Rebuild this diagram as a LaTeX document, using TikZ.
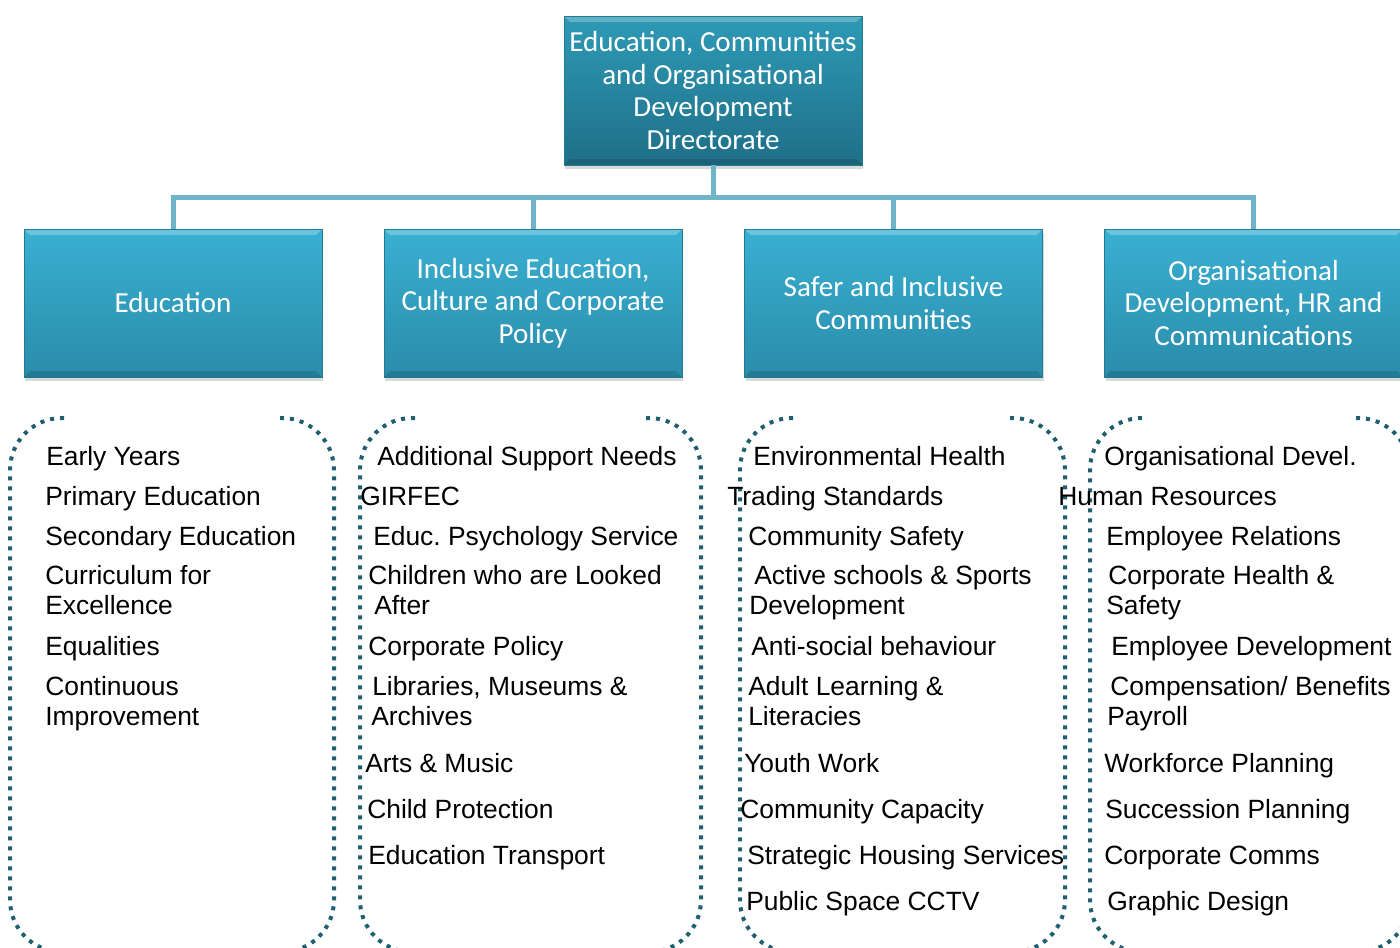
\documentclass[tikz,border=0pt]{standalone}
\usepackage{fontspec}
\newfontfamily\boxfont{Carlito}
\newfontfamily\listfont{Liberation Sans}
\usetikzlibrary{shadows}
\definecolor{unitTop}{HTML}{3AB0D2}
\definecolor{unitBot}{HTML}{2A8CAA}
\definecolor{headTop}{HTML}{2E9AB6}
\definecolor{headBot}{HTML}{1F6F88}
\definecolor{unitEdge}{HTML}{237A93}
\definecolor{linkBlue}{HTML}{6FB5C9}
\definecolor{dotTeal}{HTML}{1F5F70}
\tikzset{
  bevel/.style={path picture={
    \fill[white,opacity=.25] (path picture bounding box.north west) -- (path picture bounding box.north east)
      -- ([xshift=-4.5pt,yshift=-4.5pt]path picture bounding box.north east) -- ([xshift=4.5pt,yshift=-4.5pt]path picture bounding box.north west) -- cycle;
    \fill[black,opacity=.12] (path picture bounding box.south west) -- (path picture bounding box.south east)
      -- ([xshift=-4.5pt,yshift=4.5pt]path picture bounding box.south east) -- ([xshift=4.5pt,yshift=4.5pt]path picture bounding box.south west) -- cycle;
  }}
}

\begin{document}
\frenchspacing
\begin{tikzpicture}[x=0.75pt, y=-0.75pt,
  unit/.style={draw=unitEdge, line width=0.6pt, top color=unitTop, bottom color=unitBot, bevel,
    minimum width=223.5pt, minimum height=111pt, inner sep=0pt, align=center, text=white,
    font=\boxfont\fontsize{21.8}{24.4}\selectfont,
    drop shadow={shadow xshift=0.75pt, shadow yshift=-3pt, opacity=0.3}},
  head/.style={unit, top color=headTop, bottom color=headBot, minimum height=111.75pt},
  item/.style={anchor=west, inner sep=0pt, align=left, font=\listfont\fontsize{19.8}{22.5}\selectfont\frenchspacing,
    execute at begin node=\strut, execute at end node=\strut},
  bracket/.style={draw=dotTeal, line width=3pt, dash pattern=on 3pt off 4.5pt, rounded corners=39pt},
  link/.style={draw=linkBlue, line width=3.75pt}]
	\useasboundingbox (0,0) rectangle (1400,947);
	\clip (0,0) rectangle (1400,947);
	% Directorate and its four services
	\node[head] (dir) at (713,90.5) {Education, Communities\\and Organisational\\Development\\Directorate};
	\node[unit] (edu) at (173,303) {Education};
	\node[unit] (incl) at (533,303) {Inclusive Education,\\Culture and Corporate\\Policy};
	\node[unit] (safe) at (893.5,303) {Safer and Inclusive\\Communities};
	\node[unit] (orgd) at (1253.5,303) {Organisational\\Development, HR and\\Communications};
	\coordinate (bus) at (713,197);
	\draw[link] (dir.south) -- (bus);
	\draw[link] (bus) -| (edu.north);
	\draw[link] (bus) -| (incl.north);
	\draw[link] (bus) -| (safe.north);
	\draw[link] (bus) -| (orgd.north);
	% Dotted brackets round the lists
	\draw[bracket] (64,418) -- (10,418) -- (10,952) -- (64,952);
	\draw[bracket] (280,418) -- (334,418) -- (334,952) -- (280,952);
	\draw[bracket] (415,418) -- (360,418) -- (360,952) -- (415,952);
	\draw[bracket] (646,418) -- (701,418) -- (701,952) -- (646,952);
	\draw[bracket] (793,418) -- (740,418) -- (740,952) -- (793,952);
	\draw[bracket] (1010,418) -- (1065,418) -- (1065,952) -- (1010,952);
	\draw[bracket] (1142,418) -- (1090,418) -- (1090,952) -- (1142,952);
	\draw[bracket] (1356,418) -- (1410,418) -- (1410,952) -- (1356,952);
	% Education
	\node[item] (e1) at (46,459.5) {Early Years};
	\node[item] (e2) at (45,499.5) {Primary Education};
	\node[item] (e3) at (45,539.5) {Secondary Education};
	\node[item] (e4) at (45,594.5) {Curriculum for\\Excellence};
	\node[item] (e5) at (45,649.5) {Equalities};
	\node[item] (e6) at (45,705) {Continuous\\Improvement};
	% Inclusive Education
	\node[item] (i1) at (377,459.5) {Additional Support Needs};
	\node[item] (i2) at (360,499.5) {GIRFEC};
	\node[item] (i3) at (373,539.5) {Educ. Psychology Service};
	\node[item] (i4) at (368,594.5) {Children who are Looked\\\hspace*{4.5pt}After};
	\node[item] (i5) at (368,649.5) {Corporate Policy};
	\node[item] (i6) at (371,705) {\hspace*{0.75pt}Libraries, Museums \&\\Archives};
	\node[item] (i7) at (365,766.5) {Arts \& Music};
	\node[item] (i8) at (367,812.5) {Child Protection};
	\node[item] (i9) at (368,858.5) {Education Transport};
	% Safer and Inclusive Communities
	\node[item] (s1) at (753,459.5) {Environmental Health};
	\node[item] (s2) at (727,499.5) {Trading Standards};
	\node[item] (s3) at (748,539.5) {Community Safety};
	\node[item] (s4) at (749,594.5) {\hspace*{3.75pt}Active schools \& Sports\\Development};
	\node[item] (s5) at (751,649.5) {Anti-social behaviour};
	\node[item] (s6) at (748,705) {Adult Learning \&\\Literacies};
	\node[item] (s7) at (744,766.5) {Youth Work};
	\node[item] (s8) at (740,812.5) {Community Capacity};
	\node[item] (s9) at (747,858.5) {Strategic Housing Services};
	\node[item] (s10) at (746,904.5) {Public Space CCTV};
	% Organisational Development
	\node[item] (o1) at (1104,459.5) {Organisational Devel.};
	\node[item] (o2) at (1058,499.5) {Human Resources};
	\node[item] (o3) at (1106,539.5) {Employee Relations};
	\node[item] (o4) at (1106,594.5) {\hspace*{1.5pt}Corporate Health \&\\Safety};
	\node[item] (o5) at (1111,649.5) {Employee Development};
	\node[item] (o6) at (1107,705) {\hspace*{2.25pt}Compensation/ Benefits\\Payroll};
	\node[item] (o7) at (1104,766.5) {Workforce Planning};
	\node[item] (o8) at (1105,812.5) {Succession Planning};
	\node[item] (o9) at (1104,858.5) {Corporate Comms};
	\node[item] (o10) at (1107,904.5) {Graphic Design};
\end{tikzpicture}
\end{document}
